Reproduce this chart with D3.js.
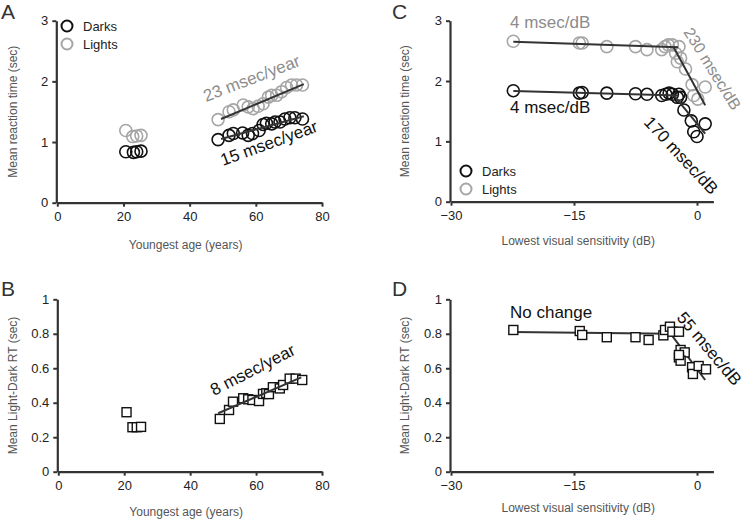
<!DOCTYPE html>
<html><head><meta charset="utf-8">
<script src="https://cdnjs.cloudflare.com/ajax/libs/d3/7.8.5/d3.min.js"></script>
<style>body{margin:0;background:#fff}svg{display:block;font-family:"Liberation Sans",Arial,sans-serif}</style>
</head><body><svg id="c" width="744" height="519"></svg>
<script>
// ---------- Data ----------
const ageTicks = [0, 20, 40, 60, 80];
const dbTicks = [-30, -15, 0];
const rtTicks = [0, 1, 2, 3];
const diffTicks = [0, 0.2, 0.4, 0.6, 0.8, 1];

// Panel A: youngest age vs mean RT
const ageA = [20.7, 22.8, 24.0, 25.3, 48.6, 51.9, 53.2, 56.2, 57.7, 59.2, 60.7, 62.2, 63.8, 64.8, 66.3, 67.8, 69.3, 70.8, 72.3, 74.1];
const lightsA = [1.19, 1.09, 1.10, 1.11, 1.37, 1.50, 1.53, 1.61, 1.58, 1.55, 1.59, 1.63, 1.74, 1.77, 1.77, 1.83, 1.90, 1.94, 1.94, 1.94];
const ageDarkA = [20.7, 23.0, 24.0, 25.3, 48.6, 51.9, 53.2, 56.0, 57.7, 59.0, 61.0, 62.2, 63.2, 64.8, 65.8, 67.3, 68.8, 70.3, 71.8, 74.1];
const darksA = [0.84, 0.83, 0.84, 0.85, 1.04, 1.11, 1.14, 1.15, 1.11, 1.14, 1.19, 1.29, 1.31, 1.30, 1.33, 1.33, 1.38, 1.40, 1.40, 1.38];
const fitLightsA = [[49.5, 1.38], [74.5, 1.955]];
const fitDarksA = [[49.5, 1.05], [74.5, 1.425]];

// Panel B: youngest age vs Light-Dark RT
const ageB = [20.7, 22.5, 23.8, 25.1, 49.0, 51.8, 53.0, 56.1, 57.6, 58.9, 60.9, 62.1, 63.1, 63.9, 65.1, 67.2, 68.2, 70.2, 72.0, 74.0];
const diffB = [0.345, 0.258, 0.258, 0.26, 0.306, 0.358, 0.406, 0.426, 0.42, 0.416, 0.41, 0.451, 0.455, 0.45, 0.49, 0.483, 0.503, 0.54, 0.54, 0.532];
const fitB = [[48.5, 0.339], [73.7, 0.547]];

// Panel C: lowest visual sensitivity vs mean RT
const dbLightsC = [-22.4, -14.35, -14.0, -11.0, -7.5, -6.1, -4.3, -3.9, -3.5, -3.0, -2.2, -2.6, -2.0, -2.4, -1.4, -0.6, -0.4, 1.0, 0.1];
const lightsC = [2.66, 2.63, 2.63, 2.57, 2.57, 2.52, 2.52, 2.57, 2.60, 2.60, 2.57, 2.46, 2.38, 2.32, 2.20, 1.94, 1.76, 1.90, 1.70];
const dbDarksC = [-22.4, -14.35, -14.0, -11.0, -7.5, -6.1, -4.3, -3.8, -3.4, -3.0, -2.2, -2.0, -2.4, -1.6, -0.7, -0.4, 0.0, 1.0];
const darksC = [1.84, 1.80, 1.81, 1.80, 1.79, 1.78, 1.76, 1.78, 1.80, 1.78, 1.78, 1.73, 1.73, 1.52, 1.34, 1.16, 1.08, 1.29];
const fitLightsC1 = [[-22.4, 2.65], [-2.3, 2.56]];
const fitLightsC2 = [[-2.85, 2.56], [1.0, 1.60]];
const fitDarksC1 = [[-22.4, 1.835], [-2.3, 1.76]];
const fitDarksC2 = [[-2.8, 1.76], [1.0, 1.13]];

// Panel D: lowest visual sensitivity vs Light-Dark RT
const dbD = [-22.4, -14.3, -14.0, -11.0, -7.5, -5.9, -4.1, -3.9, -3.3, -3.0, -2.2, -2.0, -1.5, -2.2, -2.0, -2.2, -0.6, -0.5, 0.2, 1.1];
const diffD = [0.822, 0.816, 0.793, 0.78, 0.78, 0.764, 0.791, 0.822, 0.841, 0.812, 0.812, 0.706, 0.692, 0.663, 0.644, 0.677, 0.606, 0.567, 0.613, 0.594];
const fitD1 = [[-22.5, 0.81], [-3.2, 0.80]];
const fitD2 = [[-3.2, 0.80], [1.0, 0.532]];

// ---------- Drawing ----------
const svg = d3.select("#c");
const AX = "#333", GRAY = "#a6a6a6";

function panel(o) {
  const g = svg.append("g");
  const x = d3.scaleLinear().domain(o.xd).range(o.xr);
  const y = d3.scaleLinear().domain(o.yd).range(o.yr);
  const xa = g.append("g").attr("transform", `translate(0,${o.yr[0]})`)
    .call(d3.axisBottom(x).tickValues(o.xt).tickSize(4).tickSizeOuter(0).tickPadding(5).tickFormat(o.xf || d3.format("d")));
  const ya = g.append("g").attr("transform", `translate(${o.xr[0] - 1},0)`)
    .call(d3.axisLeft(y).tickValues(o.yt).tickSize(4).tickSizeOuter(0).tickPadding(4).tickFormat(o.yf || d3.format("d")));
  [xa, ya].forEach(a => {
    a.select(".domain").attr("stroke", AX).attr("stroke-width", 2.2);
    a.selectAll(".tick line").attr("stroke", AX).attr("stroke-width", 2);
    a.selectAll(".tick text").attr("fill", "#222").style("font-size", "13px").style("font-family", "Liberation Sans, Arial, sans-serif");
  });
  g.append("text").attr("x", (o.xr[0] + o.xr[1]) / 2 - 4).attr("y", o.xtY).attr("text-anchor", "middle")
    .attr("fill", "#555").style("font-size", "12px").text(o.xtitle);
  g.append("text").attr("transform", `translate(${o.ytX},${(o.yr[0] + o.yr[1]) / 2}) rotate(-90)`)
    .attr("text-anchor", "middle").attr("fill", "#555").style("font-size", "12px").text(o.ytitle);
  g.append("text").attr("x", o.lab[0]).attr("y", o.lab[1]).attr("fill", "#333")
    .style("font-size", "21px").text(o.letter);
  return { g, x, y };
}
function circles(p, xs, ys, color) {
  p.g.append("g").selectAll("circle").data(xs).join("circle")
    .attr("cx", d => p.x(d)).attr("cy", (d, i) => p.y(ys[i])).attr("r", 6)
    .attr("fill", "none").attr("stroke", color).attr("stroke-width", 1.6);
}
function squares(p, xs, ys) {
  p.g.append("g").selectAll("rect").data(xs).join("rect")
    .attr("x", d => p.x(d) - 4.5).attr("y", (d, i) => p.y(ys[i]) - 4.5).attr("width", 9).attr("height", 9)
    .attr("fill", "#fff").attr("stroke", "#111").attr("stroke-width", 1.4);
}
function fit(p, pts) {
  p.g.append("path").attr("d", d3.line().x(d => p.x(d[0])).y(d => p.y(d[1]))(pts))
    .attr("stroke", "#333").attr("stroke-width", 2).attr("fill", "none");
}
function label(p, txt, x, y, rot, color, size) {
  p.g.append("text").attr("transform", `translate(${x},${y}) rotate(${rot})`)
    .attr("fill", color).style("font-size", (size || 17) + "px").text(txt);
}
function legend(p, x, y) {
  [["Darks", "#111"], ["Lights", GRAY]].forEach((d, i) => {
    p.g.append("circle").attr("cx", x).attr("cy", y + i * 18).attr("r", 5.5).attr("fill", "none")
      .attr("stroke", d[1]).attr("stroke-width", 2);
    p.g.append("text").attr("x", x + 16).attr("y", y + i * 18 + 5).attr("fill", "#222")
      .style("font-size", "13px").text(d[0]);
  });
}

// A
const A = panel({ xd: [0, 80], xr: [57.3, 322], yd: [0, 3], yr: [202.7, 20.7], xt: ageTicks, yt: rtTicks,
  xtitle: "Youngest age (years)", ytitle: "Mean reaction time (sec)", xtY: 249, ytX: 17, lab: [1, 19], letter: "A" });
circles(A, ageA, lightsA, GRAY);
circles(A, ageDarkA, darksA, "#111");
fit(A, fitLightsA); fit(A, fitDarksA);
label(A, "23 msec/year", 206, 102, -21, "#8c8c8c");
label(A, "15 msec/year", 223, 166, -20, "#111");
legend(A, 67, 26);

// B
const B = panel({ xd: [0, 80], xr: [58.3, 322], yd: [0, 1], yr: [471.7, 299.3], xt: ageTicks, yt: diffTicks,
  xtitle: "Youngest age (years)", ytitle: "Mean Light-Dark RT (sec)", xtY: 516, ytX: 17, lab: [1, 296], letter: "B",
  yf: d => d === 0 || d === 1 ? d3.format("d")(d) : d3.format(".1f")(d) });
squares(B, ageB, diffB);
fit(B, fitB);
label(B, "8 msec/year", 214, 396, -27, "#111");

// C
const C = panel({ xd: [-30, 2], xr: [451, 713.4], yd: [0, 3], yr: [201.7, 20.7], xt: dbTicks, yt: rtTicks,
  xtitle: "Lowest visual sensitivity (dB)", ytitle: "Mean reaction time (sec)", xtY: 245, ytX: 409, lab: [392, 19], letter: "C" });
circles(C, dbLightsC, lightsC, GRAY);
circles(C, dbDarksC, darksC, "#111");
fit(C, fitLightsC1); fit(C, fitLightsC2); fit(C, fitDarksC1); fit(C, fitDarksC2);
label(C, "4 msec/dB", 510, 28, 0, "#8c8c8c");
label(C, "4 msec/dB", 510, 113, 0, "#111");
label(C, "230 msec/dB", 683, 32, 58, "#8c8c8c", 16);
label(C, "170 msec/dB", 643, 123, 47, "#111");
legend(C, 466, 171);

// D
const D = panel({ xd: [-30, 2], xr: [451, 713.4], yd: [0, 1], yr: [471.7, 299.3], xt: dbTicks, yt: diffTicks,
  xtitle: "Lowest visual sensitivity (dB)", ytitle: "Mean Light-Dark RT (sec)", xtY: 512, ytX: 409, lab: [392, 296], letter: "D",
  yf: d => d === 0 || d === 1 ? d3.format("d")(d) : d3.format(".1f")(d) });
fit(D, fitD1); fit(D, fitD2);
squares(D, dbD, diffD);
label(D, "No change", 510, 318, 0, "#111");
label(D, "55 msec/dB", 676, 318, 50, "#111");
</script></body></html>
